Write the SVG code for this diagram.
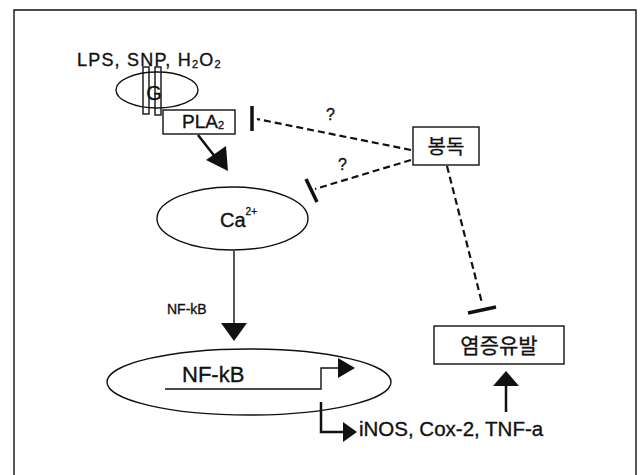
<svg xmlns="http://www.w3.org/2000/svg" width="643" height="475" viewBox="0 0 643 475">
  <style>
    .t { font-family: "Liberation Sans", Arial, "Noto Sans CJK KR", sans-serif; fill: #111; stroke: #111; stroke-width: 0.35; }
    .k { font-family: "Noto Sans CJK KR", "Liberation Sans", sans-serif; fill: #111; stroke: #111; stroke-width: 0.3; }
    .ln { fill: none; stroke: #111; stroke-width: 1.4; }
    .box { fill: #fff; stroke: #111; stroke-width: 1.4; }
    .dash { fill: none; stroke: #111; stroke-width: 2.2; stroke-dasharray: 7 4; }
    .bar { fill: none; stroke: #111; stroke-width: 3.5; stroke-linecap: butt; }
    .thick { fill: none; stroke: #111; stroke-width: 2.5; }
    .head { fill: #111; }
  </style>

  <rect x="0" y="0" width="643" height="475" fill="#fff"/>

  <!-- outer frame (open at the bottom edge) -->
  <path class="ln" d="M14,475 L14,10 L636,10 L636,475" stroke-width="1.7"/>

  <!-- stimuli, receptor with G protein, PLA2 -->
  <g id="stimuli">
    <text class="t" x="77" y="66" font-size="18" letter-spacing="1.2">LPS, SNP, H<tspan font-size="11" dy="2">2</tspan><tspan dy="-2">O</tspan><tspan font-size="11" dy="2">2</tspan></text>
  </g>
  <g id="g-protein">
    <ellipse class="ln" cx="157" cy="90" rx="41" ry="18"/>
    <rect class="ln" x="143" y="67" width="6" height="47"/>
    <rect class="ln" x="155" y="67" width="6" height="48"/>
    <text class="t" x="154" y="100" font-size="20" text-anchor="middle">G</text>
  </g>
  <g id="pla2">
    <rect class="box" x="163" y="110" width="72" height="24"/>
    <text class="t" x="182" y="128" font-size="19">PLA<tspan font-size="11" dy="1">2</tspan></text>
  </g>

  <!-- calcium -->
  <g id="calcium">
    <ellipse class="ln" cx="232.5" cy="218.5" rx="75.5" ry="31.5"/>
    <text class="t" x="220" y="227" font-size="20">Ca<tspan font-size="10" dy="-12">2+</tspan></text>
  </g>

  <!-- NF-kB in the nucleus -->
  <g id="nfkb">
    <ellipse class="ln" cx="249" cy="382" rx="142" ry="33"/>
    <text class="t" x="182" y="382" font-size="22">NF-kB</text>
  </g>

  <!-- bee venom -->
  <g id="bee-venom">
    <rect class="box" x="413" y="127" width="66" height="38"/>
    <text class="k" x="446" y="154" font-size="20" text-anchor="middle">봉독</text>
  </g>

  <!-- inflammation -->
  <g id="inflammation">
    <rect class="box" x="434" y="326" width="130" height="38"/>
    <text class="k" x="499" y="353" font-size="21" text-anchor="middle">염증유발</text>
  </g>

  <g id="mediators">
    <text class="t" x="359" y="436" font-size="20.5">iNOS, Cox-2, TNF-a</text>
  </g>

  <g id="connectors">
    <!-- PLA2 to Ca2+ -->
    <line class="thick" x1="198" y1="135" x2="216" y2="158" stroke-width="3"/>
    <path class="head" d="M206,160 L226,146 L228,171 Z"/>

    <!-- Ca2+ to NF-kB -->
    <line class="ln" x1="234" y1="251" x2="234" y2="325" stroke-width="2"/>
    <path class="head" d="M221,323 L247,323 L234,341 Z"/>
    <text class="t" x="167" y="314" font-size="14" stroke-width="0.2">NF-kB</text>

    <!-- transcription start: gene line and bent arrow -->
    <path class="ln" d="M165,389 L321,389 L321,368 L340,368" stroke-width="1.6"/>
    <path class="head" d="M338,358 L355,368 L338,378 Z"/>

    <!-- gene products -->
    <path class="thick" d="M321,402 L321,432 L345,432"/>
    <path class="head" d="M343,422 L357,432 L343,442 Z"/>

    <!-- products to inflammation -->
    <line class="thick" x1="506" y1="412" x2="506" y2="384" stroke-width="3"/>
    <path class="head" d="M493,386 L519,386 L506,371 Z"/>

    <!-- bee venom inhibits PLA2 (?) -->
    <path class="dash" d="M411,150 L257,119"/>
    <line class="bar" x1="252" y1="106" x2="252" y2="131"/>
    <text class="t" x="326" y="120" font-size="16" stroke-width="0.2">?</text>

    <!-- bee venom inhibits Ca2+ (?) -->
    <path class="dash" d="M411,160 L315,189"/>
    <line class="bar" x1="306" y1="179" x2="317" y2="202"/>
    <text class="t" x="338" y="170" font-size="16" stroke-width="0.2">?</text>

    <!-- bee venom inhibits inflammation -->
    <path class="dash" d="M447,166 L482,303"/>
    <line class="bar" x1="468" y1="313" x2="496" y2="307"/>
  </g>
</svg>
